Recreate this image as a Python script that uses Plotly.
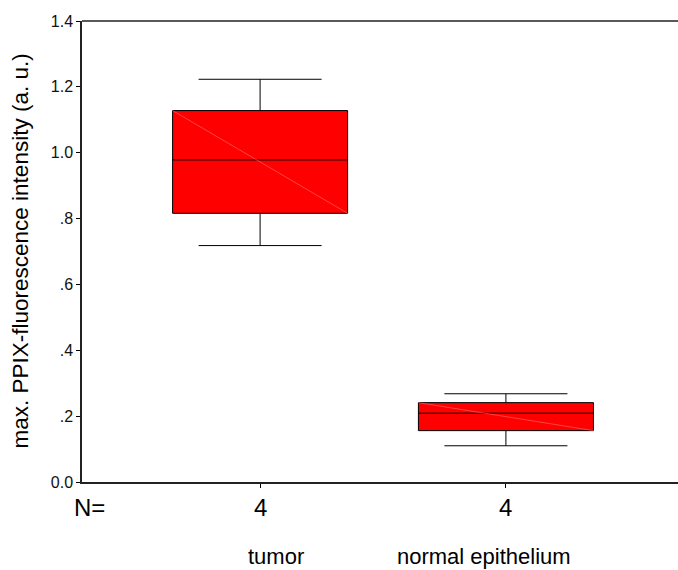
import plotly.graph_objects as go

# Box-plot summary statistics per group
groups = ["tumor", "normal epithelium"]
group_pos = [0, 1]
n_counts = [4, 4]
upper_whisker = [1.223, 0.268]
q3_values = [1.128, 0.241]
medians = [0.978, 0.209]
q1_values = [0.816, 0.156]
lower_whisker = [0.718, 0.110]

y_tick_vals = [0.0, 0.2, 0.4, 0.6, 0.8, 1.0, 1.2, 1.4]
y_tick_text = ["0.0", ".2", ".4", ".6", ".8", "1.0", "1.2", "1.4"]

FONT = "Liberation Sans, Arial, sans-serif"
BOX_WIDTH = 0.712

fig = go.Figure()

for i, name in enumerate(groups):
    fig.add_trace(go.Box(
        x=[group_pos[i]],
        q1=[q1_values[i]],
        median=[medians[i]],
        q3=[q3_values[i]],
        lowerfence=[lower_whisker[i]],
        upperfence=[upper_whisker[i]],
        name=name,
        width=BOX_WIDTH,
        whiskerwidth=0.703,
        fillcolor="#ff0000",
        line=dict(color="black", width=1),
        boxpoints=False,
        hoverinfo="skip",
    ))
    # faint diagonal seam across the filled box
    half = BOX_WIDTH / 2
    fig.add_trace(go.Scatter(
        x=[group_pos[i] - half, group_pos[i] + half],
        y=[q3_values[i], q1_values[i]],
        mode="lines",
        line=dict(color="rgba(255,120,120,0.8)", width=0.7),
        hoverinfo="skip",
    ))

annotations = []
# sample sizes under each group
for i, n in enumerate(n_counts):
    annotations.append(dict(
        x=group_pos[i], y=0, xref="x", yref="paper",
        text=str(n), showarrow=False, yshift=-25,
        xanchor="center", yanchor="middle",
        font=dict(family=FONT, size=24, color="black"),
    ))
annotations.append(dict(
    x=0, y=0, xref="paper", yref="paper", text="N=", showarrow=False,
    xshift=-10, yshift=-25, xanchor="left", yanchor="middle",
    font=dict(family=FONT, size=24, color="black"),
))
# group names
label_shifts = [16, -22]
for i, name in enumerate(groups):
    annotations.append(dict(
        x=group_pos[i], y=0, xref="x", yref="paper", text=name,
        showarrow=False, xshift=label_shifts[i], yshift=-74,
        xanchor="center", yanchor="middle",
        font=dict(family=FONT, size=22, color="black"),
    ))
# y-axis title
annotations.append(dict(
    x=0, y=0.5, xref="paper", yref="paper",
    text="max. PPIX-fluorescence intensity (a. u.)",
    showarrow=False, textangle=-90, xshift=-62,
    xanchor="center", yanchor="middle",
    font=dict(family=FONT, size=22.5, color="black"),
))

fig.update_layout(
    width=678, height=570,
    margin=dict(l=82, r=0, t=21, b=88),
    paper_bgcolor="white", plot_bgcolor="white",
    showlegend=False,
    annotations=annotations,
    shapes=[dict(type="line", xref="paper", yref="paper",
                 x0=0, x1=1, y0=1, y1=1,
                 line=dict(color="#222", width=1.5))],
    xaxis=dict(
        range=[-0.7245, 1.70], tickmode="array", tickvals=group_pos,
        showticklabels=False, ticks="outside", ticklen=4, tickwidth=1,
        tickcolor="black", showline=True, linecolor="#222", linewidth=1.5,
        showgrid=False, zeroline=False, fixedrange=True,
    ),
    yaxis=dict(
        range=[0, 1.4], tickmode="array", tickvals=y_tick_vals,
        ticktext=y_tick_text, ticks="outside", ticklen=4, tickwidth=1,
        tickcolor="black", showline=True, linecolor="#222", linewidth=1.5,
        showgrid=False, zeroline=False, fixedrange=True,
        tickfont=dict(family=FONT, size=16, color="#111"),
    ),
)

fig.write_html("out.html")
